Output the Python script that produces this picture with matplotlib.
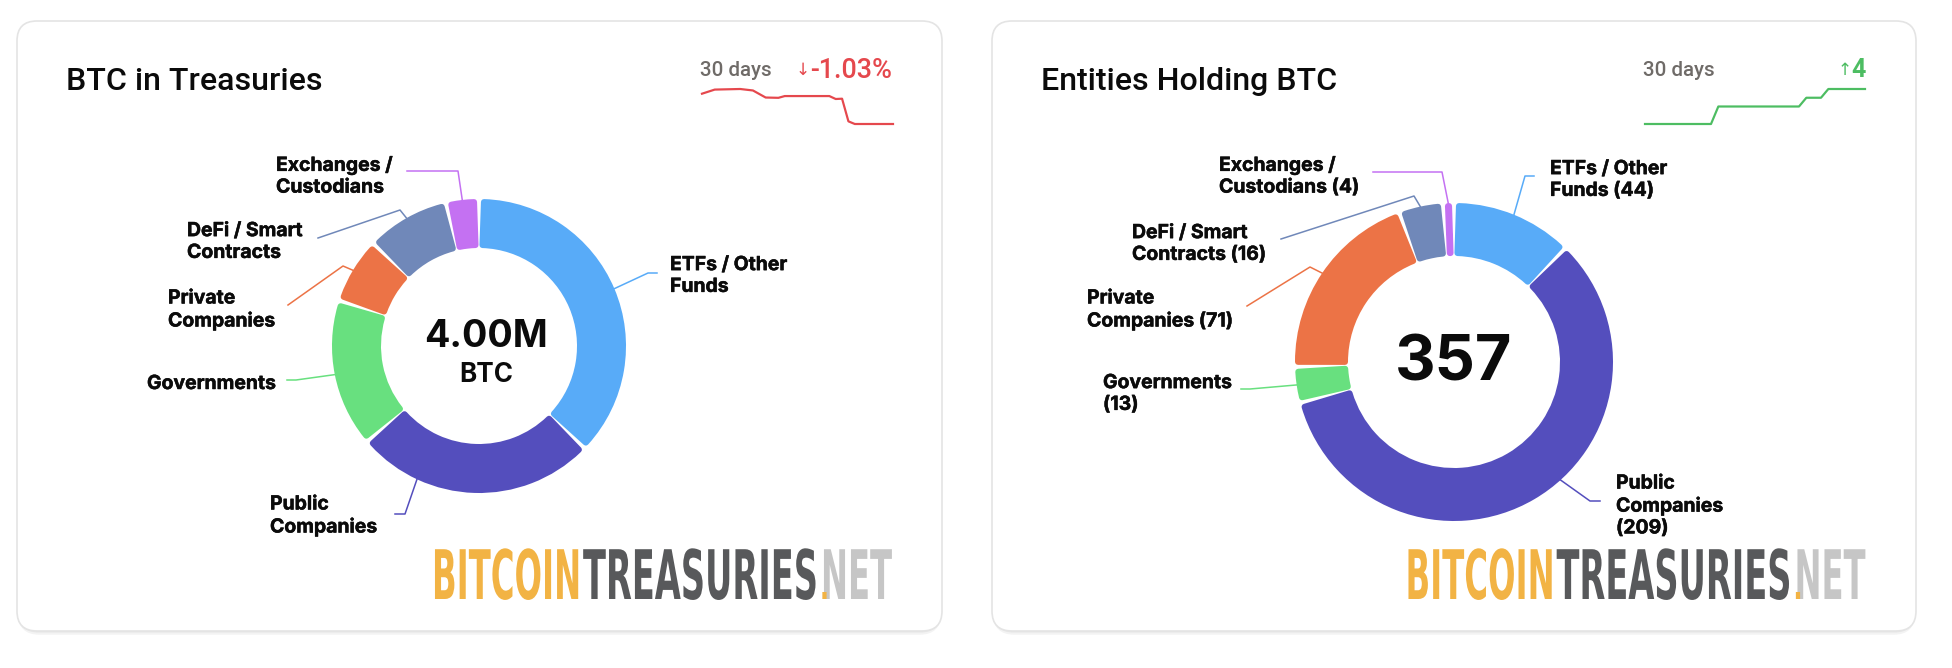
# plot.py
"""
Two treasury donut cards with a 30 day sparkline and a logo line.
"""
import math

import matplotlib
matplotlib.use("Agg")
import matplotlib.pyplot as plt
from matplotlib.patches import FancyBboxPatch
from matplotlib.patheffects import AbstractPathEffect, withStroke
from matplotlib.transforms import Affine2D, Bbox, TransformedBbox

W, H = 1952, 668
DPI = 100
PX = 72 / DPI  # one pixel in points

# data
categories = ["ETFs", "Public", "Governments", "Private", "DeFi", "Exchanges"]
btc_thousands = [1490, 1060, 650, 290, 365, 145]
entity_counts = [44, 209, 13, 71, 16, 4]

btc_labels = ["ETFs / Other\nFunds", "Public\nCompanies", "Governments",
              "Private\nCompanies", "DeFi / Smart\nContracts", "Exchanges /\nCustodians"]
entity_labels = ["ETFs / Other\nFunds (44)", "Public\nCompanies\n(209)", "Governments\n(13)",
                 "Private\nCompanies (71)", "DeFi / Smart\nContracts (16)", "Exchanges /\nCustodians (4)"]

btc_days = [0, 2, 6, 8, 10, 12, 13, 20, 21, 22, 23, 24, 30]
btc_change = [0, 0.14, 0.16, 0.11, -0.13, -0.14, -0.08, -0.08, -0.18, -0.17, -0.94, -1.03, -1.03]
entity_days = [0, 9, 10, 21, 22, 24, 25, 30]
entity_total = [353, 353, 355, 355, 356, 356, 357, 357]

# style
colors = ["#58ABF8", "#544EBD", "#68E07F", "#EC7346", "#7088B9", "#C471F2"]
INK = "#0B0B0B"
RED = "#E5484D"
GREEN = "#4DBD62"
GREY = "#6F6B68"
LABEL_FONT = ["Inter", "DejaVu Sans"]
HEAD_FONT = ["Roboto", "DejaVu Sans"]
LOGO_FONT = ["Liberation Sans Narrow", "DejaVu Sans"]

# layout, in pixels from the top left corner
btc_label_pos = [(670, 276), (270, 516), (147, 384), (168, 310), (187, 242), (276, 176)]
entity_label_pos = [(1550, 180), (1616, 506), (1103, 394), (1087, 310), (1132, 244), (1219, 176)]
btc_legs = [[(648, 273), (657, 273)], [(405, 514), (395, 514)], [(296, 380), (287, 380)],
            [(343, 266), (288, 305)], [(400, 210), (318, 238)], [(458, 171), (407, 171)]]
entity_legs = [[(1525, 176), (1534, 176)], [(1590, 501), (1600, 501)], [(1250, 389), (1241, 389)],
               [(1310, 267), (1247, 306)], [(1414, 196), (1281, 239)], [(1442, 172), (1373, 172)]]
# the public slice leader leaves the ring away from the middle of the slice
btc_leg_angle = [None, 205, None, None, None, None]
entity_leg_angle = [None, 138, None, None, None, None]


class Stretch(AbstractPathEffect):
    """Draws text taller than its font size, the logo face is a condensed one."""

    def __init__(self, sy):
        super().__init__()
        self.sy = sy

    def draw_path(self, renderer, gc, tpath, affine, rgbFace=None):
        renderer.draw_path(gc, tpath, Affine2D().scale(1, self.sy) + affine, rgbFace)


def pixel_axes(x0, y0, x1, y1, zorder=1):
    ax = fig.add_axes([x0 / W, 1 - y1 / H, (x1 - x0) / W, (y1 - y0) / H], zorder=zorder)
    ax.set_axis_off()
    return ax


def draw_card(x0, y0, x1, y1):
    for off, col in [(5, "#F3F3F3"), (3, "#E9E9E9")]:
        base.add_patch(FancyBboxPatch((x0 + 2, y0 + 2 + off), x1 - x0 - 4, y1 - y0 - 4,
                                      boxstyle="round,pad=0,rounding_size=20",
                                      fc=col, ec=col, lw=1))
    base.add_patch(FancyBboxPatch((x0, y0), x1 - x0, y1 - y0,
                                  boxstyle="round,pad=0,rounding_size=20",
                                  fc="white", ec="#E4E4E4", lw=1.2))


def draw_donut(values, cx, cy, r, labels, label_pos, legs, leg_angle):
    ax = pixel_axes(cx - r, cy - r, cx + r, cy + r)
    wedges, _ = ax.pie(values, colors=colors, startangle=90, counterclock=False, radius=1,
                       wedgeprops={"width": 1 / 3})
    ax.set_xlim(-1, 1)
    ax.set_ylim(-1, 1)

    corner = 3.0
    gap = 1.2
    rmid = r * 5 / 6
    for w, col, text, pos, leg, ang in zip(wedges, colors, labels, label_pos, legs, leg_angle):
        if ang is None:
            mid = math.radians((w.theta1 + w.theta2) / 2)
        else:
            mid = math.radians(90 - ang)
        pts = [(cx + (r - 1) * math.cos(mid), cy - (r - 1) * math.sin(mid))] + leg
        base.plot([p[0] for p in pts], [p[1] for p in pts], color=col, lw=1.1, zorder=3)
        base.text(pos[0], pos[1], text, family=LABEL_FONT, weight="bold", fontsize=19.4 * PX,
                  color=INK, ha="left", va="center", linespacing=1.27, zorder=4,
                  path_effects=[withStroke(linewidth=0.35, foreground=INK)])

        # pull each wedge in and stroke it in its own colour for the round corners
        inset = math.degrees((corner + gap) / rmid)
        w.set_theta1(w.theta1 + inset)
        w.set_theta2(w.theta2 - inset)
        w.set_radius(1 - corner / r)
        w.set_width(1 / 3 - 2 * corner / r)
        w.set_edgecolor(col)
        w.set_linewidth(2 * corner * PX)
        w.set_joinstyle("round")
        w.set_clip_on(False)


def draw_spark(days, values, x0, x1, color):
    ax = pixel_axes(x0, 89, x1, 124)
    ax.plot(days, values, color=color, lw=2.2 * PX, clip_on=False)
    ax.set_xlim(min(days), max(days))
    ax.set_ylim(min(values), max(values))


def logo_part(x, width, text, color):
    t = base.text(x, 599, text, family=LOGO_FONT, weight="bold", fontsize=30 * PX, color=color,
                  ha="left", va="baseline", zorder=4)
    # size the part to its width, then stretch it up to the cap height
    fs = 30 * width / t.get_window_extent(fig.canvas.get_renderer()).width
    t.set_fontsize(fs * PX)
    t.set_path_effects([Stretch(47 / (0.688 * fs))])
    return t


def draw_logo(x):
    logo_part(x, 149, "BITCOIN", "#F2B344")
    logo_part(x + 151, 235, "TREASURIES", "#58595B")
    logo_part(x + 389, 71, "NET", "#C6C6C6")
    # only the dot of the mark is orange, its stem runs into the N
    dot = logo_part(x + 387, 11, "!", "#F2B344")
    dot.set_clip_box(TransformedBbox(Bbox([[x + 385, 592], [x + 402, 602]]), base.transData))
    dot.set_clip_on(True)


fig = plt.figure(figsize=(W / DPI, H / DPI), dpi=DPI, facecolor="white")
base = fig.add_axes([0, 0, 1, 1], zorder=0)
base.set_xlim(0, W)
base.set_ylim(H, 0)
base.set_axis_off()

draw_card(17, 21, 942, 631)
draw_card(992, 21, 1916, 631)

# left card
base.text(66, 81, "BTC in Treasuries", family=HEAD_FONT, weight="medium", fontsize=32.2 * PX,
          color=INK, ha="left", va="center")
base.text(700, 70, "30 days", family=HEAD_FONT, weight="medium", fontsize=20.5 * PX, color=GREY,
          ha="left", va="center")
base.text(892, 70, "-1.03%", family=HEAD_FONT, weight="medium", fontsize=27 * PX, color=RED,
          ha="right", va="center")
base.text(803, 70, "↓", family=["DejaVu Sans"], fontsize=17 * PX, color=RED, ha="center", va="center")
draw_donut(btc_thousands, 479, 346, 147, btc_labels, btc_label_pos, btc_legs, btc_leg_angle)
base.text(485.5, 337, "4.00M", family=LABEL_FONT, weight="bold", fontsize=37.5 * PX, color=INK,
          ha="center", va="center")
base.text(486, 375, "BTC", family=LABEL_FONT, weight="bold", fontsize=26 * PX, color=INK,
          ha="center", va="center")
draw_spark(btc_days, btc_change, 702, 893, RED)
draw_logo(432)

# right card
base.text(1041, 81, "Entities Holding BTC", family=HEAD_FONT, weight="medium", fontsize=32.2 * PX,
          color=INK, ha="left", va="center")
base.text(1643, 70, "30 days", family=HEAD_FONT, weight="medium", fontsize=20.5 * PX, color=GREY,
          ha="left", va="center")
base.text(1866, 70, "4", family=HEAD_FONT, weight="bold", fontsize=25 * PX, color=GREEN,
          ha="right", va="center")
base.text(1845, 70, "↑", family=["DejaVu Sans"], fontsize=17 * PX, color=GREEN, ha="center", va="center")
draw_donut(entity_counts, 1454, 362, 159, entity_labels, entity_label_pos, entity_legs, entity_leg_angle)
base.text(1454, 364, "357", family=LABEL_FONT, weight="bold", fontsize=63 * PX, color=INK,
          ha="center", va="center")
draw_spark(entity_days, entity_total, 1645, 1865, GREEN)
draw_logo(1405.5)

fig.savefig("out.png", dpi=DPI)
